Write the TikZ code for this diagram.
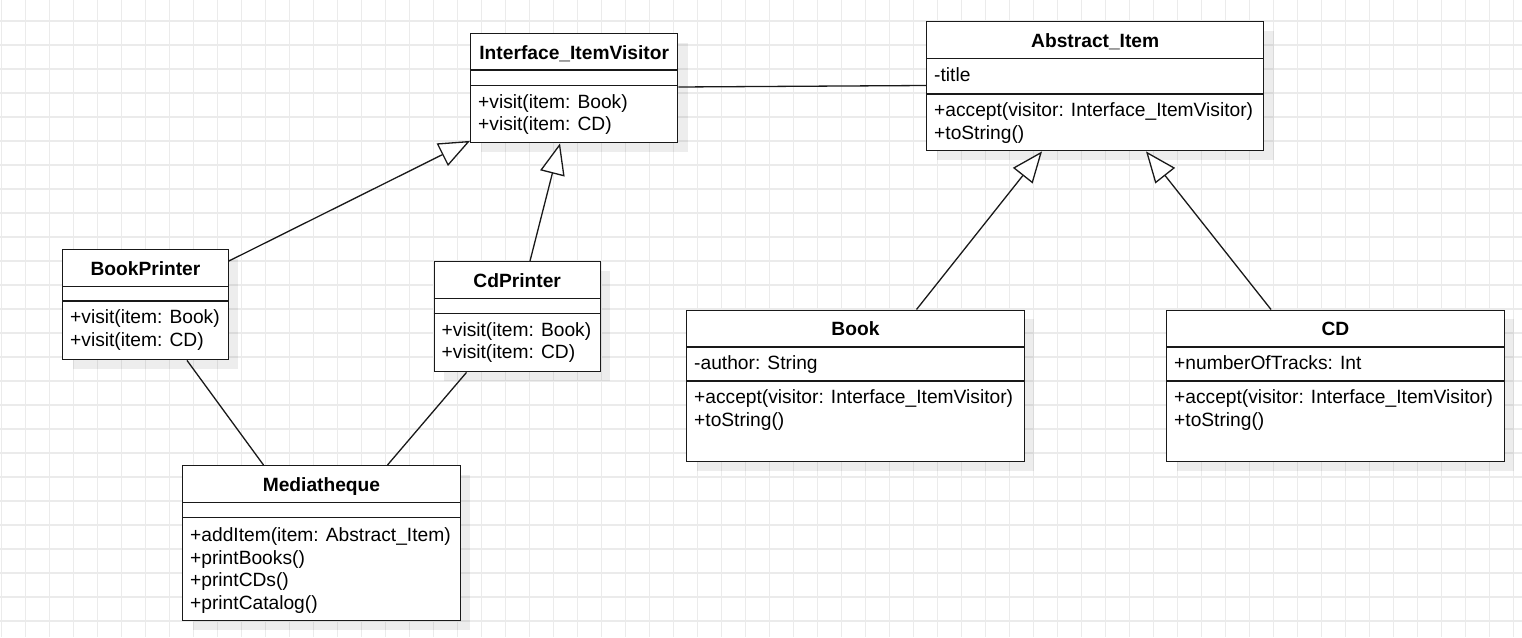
\documentclass[tikz,border=0pt]{standalone}
\usepackage{fontspec}
\setmainfont{Liberation Sans}
\usetikzlibrary{arrows.meta,shadows}
\definecolor{gridc}{RGB}{235,235,235}
\definecolor{linec}{RGB}{25,25,25}
\tikzset{
  umlbox/.style={draw=linec, line width=1.4pt, fill=white, inner sep=0pt, anchor=north west,
    drop shadow={shadow xshift=10pt, shadow yshift=-9pt, opacity=0.07, fill=black}},
  gridline/.style={draw=gridc, line width=1.1pt},
  sepline/.style={draw=linec, line width=1.3pt},
  txt/.style={inner sep=0pt, anchor=base west, font=\fontsize{19.2}{23}\selectfont},
  ttl/.style={inner sep=0pt, anchor=base, font=\fontsize{19.2}{23}\selectfont\bfseries},
  conn/.style={draw=linec, line width=1.3pt},
  inh/.style={conn, -{Triangle[length=31pt, width=25pt, fill=white]}}
}
\newcommand{\umlsep}[2]{\draw[sepline] ([shift={(0,#2)}]#1.north west) -- ([shift={(0,#2)}]#1.north east);}
\begin{document}
\begin{tikzpicture}[x=1pt, y=-1pt]
\useasboundingbox (0,0) rectangle (1522,637);
\fill[white] (0,0) rectangle (1522,637);
% grid
\foreach \i in {0,...,63} \draw[gridline] ({1.7+24*\i},0) -- ({1.7+24*\i},637);
\foreach \j in {0,...,25} \draw[gridline] (0,{21+24*\j}) -- (1522,{21+24*\j});

% boxes
\node[umlbox, minimum width=207pt, minimum height=109pt] (iv) at (470,33) {};
\node[umlbox, minimum width=337pt, minimum height=129pt] (ai) at (926,21) {};
\node[umlbox, minimum width=165.5pt, minimum height=110pt] (bp) at (62,249) {};
\node[umlbox, minimum width=166pt, minimum height=110pt] (cp) at (433.5,261) {};
\node[umlbox, minimum width=277.5pt, minimum height=155pt] (md) at (182,465) {};
\node[umlbox, minimum width=337.5pt, minimum height=151.5pt] (bk) at (686,309.5) {};
\node[umlbox, minimum width=337.5pt, minimum height=151.5pt] (cd) at (1166,309.5) {};

% Interface_ItemVisitor
\umlsep{iv}{37} \umlsep{iv}{52.5}
\node[ttl] (ivt) at ([shift={(0,26)}]iv.north) {Interface\_ItemVisitor};
\node[txt] (ivo1) at ([shift={(8,75)}]iv.north west) {+visit(item: Book)};
\node[txt] (ivo2) at ([shift={(8,97.5)}]iv.north west) {+visit(item: CD)};

% Abstract_Item
\umlsep{ai}{37.5} \umlsep{ai}{73}
\node[ttl] (ait) at ([shift={(0,26)}]ai.north) {Abstract\_Item};
\node[txt] (aia1) at ([shift={(8,60)}]ai.north west) {-title};
\node[txt] (aio1) at ([shift={(8,95.5)}]ai.north west) {+accept(visitor: Interface\_ItemVisitor)};
\node[txt] (aio2) at ([shift={(8,118)}]ai.north west) {+toString()};

% BookPrinter
\umlsep{bp}{37.5} \umlsep{bp}{52}
\node[ttl] (bpt) at ([shift={(0,26)}]bp.north) {BookPrinter};
\node[txt] (bpo1) at ([shift={(8,74.5)}]bp.north west) {+visit(item: Book)};
\node[txt] (bpo2) at ([shift={(8,97)}]bp.north west) {+visit(item: CD)};

% CdPrinter
\umlsep{cp}{37.5} \umlsep{cp}{52.5}
\node[ttl] (cpt) at ([shift={(0,26)}]cp.north) {CdPrinter};
\node[txt] (cpo1) at ([shift={(8,75)}]cp.north west) {+visit(item: Book)};
\node[txt] (cpo2) at ([shift={(8,97.5)}]cp.north west) {+visit(item: CD)};

% Mediatheque
\umlsep{md}{37.5} \umlsep{md}{52.5}
\node[ttl] (mdt) at ([shift={(0,26)}]md.north) {Mediatheque};
\node[txt] (mdo1) at ([shift={(8,76.5)}]md.north west) {+addItem(item: Abstract\_Item)};
\node[txt] (mdo2) at ([shift={(8,99)}]md.north west) {+printBooks()};
\node[txt] (mdo3) at ([shift={(8,121.5)}]md.north west) {+printCDs()};
\node[txt] (mdo4) at ([shift={(8,144)}]md.north west) {+printCatalog()};

% Book
\umlsep{bk}{37.5} \umlsep{bk}{71.5}
\node[ttl] (bkt) at ([shift={(0,26)}]bk.north) {Book};
\node[txt] (bka1) at ([shift={(8,60)}]bk.north west) {-author: String};
\node[txt] (bko1) at ([shift={(8,94)}]bk.north west) {+accept(visitor: Interface\_ItemVisitor)};
\node[txt] (bko2) at ([shift={(8,116.5)}]bk.north west) {+toString()};

% CD
\umlsep{cd}{37.5} \umlsep{cd}{71.5}
\node[ttl] (cdt) at ([shift={(0,26)}]cd.north) {CD};
\node[txt] (cda1) at ([shift={(8,60)}]cd.north west) {+numberOfTracks: Int};
\node[txt] (cdo1) at ([shift={(8,94)}]cd.north west) {+accept(visitor: Interface\_ItemVisitor)};
\node[txt] (cdo2) at ([shift={(8,116.5)}]cd.north west) {+toString()};

% connectors
\draw[conn] ([shift={(0,54)}]iv.north east) -- ([shift={(0,64.5)}]ai.north west);
\draw[inh] ([shift={(0,12)}]bp.north east) -- ([shift={(0,-2.5)}]iv.south west);
\draw[inh] ([shift={(96.5,0)}]cp.north west) -- ([shift={(90,0)}]iv.south west);
\draw[inh] ([shift={(230.5,0)}]bk.north west) -- ([shift={(116,0)}]ai.south west);
\draw[inh] ([shift={(105,0)}]cd.north west) -- ([shift={(220,0)}]ai.south west);
\draw[conn] ([shift={(125,0)}]bp.south west) -- ([shift={(81.5,0)}]md.north west);
\draw[conn] ([shift={(33,0)}]cp.south west) -- ([shift={(205.5,0)}]md.north west);
\end{tikzpicture}
\end{document}
